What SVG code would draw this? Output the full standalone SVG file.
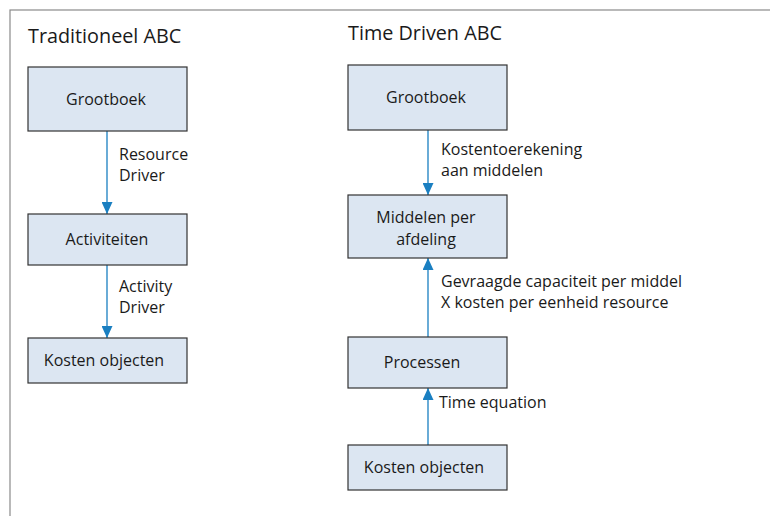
<svg xmlns="http://www.w3.org/2000/svg" width="770" height="516" viewBox="0 0 770 516">
  <style>
    .frame { fill: none; stroke: #8a8a8a; stroke-width: 1.2; }
    .box { fill: #dce6f2; stroke: #333; stroke-width: 1.2; }
    .title { font-family: "Open Sans", "Noto Sans", sans-serif; font-size: 19.8px; fill: #1a1a1a; }
    .lbl { font-family: "Open Sans", "Noto Sans", sans-serif; font-size: 16px; fill: #1a1a1a; }
    .mid { text-anchor: middle; }
    .link { stroke: #1a7fc1; stroke-width: 1.3; fill: none; }
  </style>
  <defs>
    <marker id="arrow" viewBox="0 0 12 11" refX="12" refY="5.5" markerWidth="12" markerHeight="11" markerUnits="userSpaceOnUse" orient="auto">
      <path d="M0,0 L12,5.5 L0,11 Z" fill="#1a7fc1"/>
    </marker>
  </defs>
  <rect fill="#fff" x="0" y="0" width="770" height="516"/>
  <rect class="frame" x="10" y="10" width="780" height="530"/>

  <text class="title" x="28" y="43">Traditioneel ABC</text>
  <text class="title" x="348" y="40">Time Driven ABC</text>

  <g id="connectors">
    <line class="link" x1="107" y1="131" x2="107" y2="214" marker-end="url(#arrow)"/>
    <line class="link" x1="107" y1="265" x2="107" y2="338" marker-end="url(#arrow)"/>
    <line class="link" x1="428" y1="130" x2="428" y2="195" marker-end="url(#arrow)"/>
    <line class="link" x1="428" y1="337" x2="428" y2="258" marker-end="url(#arrow)"/>
    <line class="link" x1="428" y1="445" x2="428" y2="388" marker-end="url(#arrow)"/>
    <text class="lbl" x="119" y="160">Resource</text>
    <text class="lbl" x="119" y="181">Driver</text>
    <text class="lbl" x="119" y="292">Activity</text>
    <text class="lbl" x="119" y="313">Driver</text>
    <text class="lbl" x="441" y="155">Kostentoerekening</text>
    <text class="lbl" x="441" y="176">aan middelen</text>
    <text class="lbl" x="441" y="287">Gevraagde capaciteit per middel</text>
    <text class="lbl" x="441" y="308">X kosten per eenheid resource</text>
    <text class="lbl" x="439" y="408">Time equation</text>
  </g>

  <g id="trad-grootboek">
    <rect class="box" x="28" y="67" width="159" height="64"/>
    <text class="lbl mid" x="106" y="105">Grootboek</text>
  </g>
  <g id="trad-activiteiten">
    <rect class="box" x="28" y="214" width="159" height="51"/>
    <text class="lbl mid" x="107" y="245">Activiteiten</text>
  </g>
  <g id="trad-kosten-objecten">
    <rect class="box" x="28" y="338" width="159" height="45"/>
    <text class="lbl mid" x="104" y="366">Kosten objecten</text>
  </g>

  <g id="td-grootboek">
    <rect class="box" x="348" y="65" width="159" height="65"/>
    <text class="lbl mid" x="426" y="103">Grootboek</text>
  </g>
  <g id="td-middelen">
    <rect class="box" x="348" y="195" width="159" height="63"/>
    <text class="lbl mid" x="426" y="223">Middelen per</text>
    <text class="lbl mid" x="426" y="245">afdeling</text>
  </g>
  <g id="td-processen">
    <rect class="box" x="348" y="337" width="159" height="51"/>
    <text class="lbl mid" x="422" y="368">Processen</text>
  </g>
  <g id="td-kosten-objecten">
    <rect class="box" x="348" y="445" width="159" height="45"/>
    <text class="lbl mid" x="424" y="473">Kosten objecten</text>
  </g>
</svg>
